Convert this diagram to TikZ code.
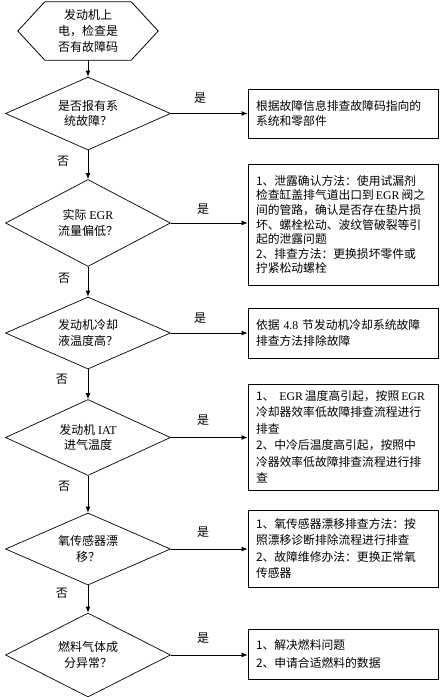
\documentclass[tikz,border=0pt]{standalone}
\usepackage{fontspec}
\setmainfont{Noto Sans CJK SC}
\newfontfamily\lat{Liberation Serif}
\usetikzlibrary{shapes.geometric,arrows.meta}
\begin{document}
\begin{tikzpicture}[x=1pt,y=-1pt,
  dec/.style={draw, diamond, aspect=2.2, minimum width=165pt, inner sep=0pt, align=center,
    font=\fontsize{12}{15.5}\selectfont, line width=0.7pt},
  res/.style={draw, rectangle, text width=174pt, inner xsep=8pt, inner ysep=0pt, align=left,
    font=\fontsize{11.8}{16.5}\selectfont, line width=0.8pt},
  arr/.style={-{Latex[length=6pt,width=5pt]}, line width=0.9pt},
  lbl/.style={font=\fontsize{12}{14}\selectfont, inner sep=0pt}]
\useasboundingbox (0,0) rectangle (440,697);

% start hexagon
\node[minimum width=140pt, minimum height=58pt, inner sep=0pt, align=center,
  font=\fontsize{12}{16}\selectfont] (start) at (88,31) {发动机上\\电，检查是\\否有故障码};
\draw[line width=0.8pt] (start.west) -- ([xshift=27pt]start.north west) -- ([xshift=-27pt]start.north east)
  -- (start.east) -- ([xshift=-27pt]start.south east) -- ([xshift=27pt]start.south west) -- cycle;

% decisions
\node[dec, minimum height=73pt] (d1) at (88,113.5) {是否报有系\\统故障？};
\node[dec, minimum height=87pt] (d2) at (88,223) {实际 {\lat EGR}\\流量偏低？};
\node[dec, minimum height=72pt] (d3) at (88,333) {发动机冷却\\液温度高？};
\node[dec, minimum height=76pt] (d4) at (88,437.5) {发动机 {\lat IAT}\\进气温度};
\node[dec, minimum height=72pt] (d5) at (88,549) {氧传感器漂\\移？};
\node[dec, minimum height=84pt] (d6) at (88,655) {燃料气体成\\分异常？};

% results
\node[res, minimum height=49pt, font=\fontsize{11.8}{15}\selectfont] (b1) at (343,113.5)
  {根据故障信息排查故障码指向的\\系统和零部件};
\node[res, minimum height=121pt, font=\fontsize{11.8}{14.6}\selectfont] (b2) at (343,224.5)
  {1、泄露确认方法：使用试漏剂\\检查缸盖排气道出口到\,{\lat EGR}\,阀之\\间的管路，确认是否存在垫片损\\坏、螺栓松动、波纹管破裂等引\\起的泄露问题\\2、排查方法：更换损坏零件或\\拧紧松动螺栓};
\node[res, minimum height=50pt] (b3) at (343,333)
  {依据 {\lat 4.8} 节发动机冷却系统故障\\排查方法排除故障};
\node[res, minimum height=106pt] (b4) at (343,437)
  {1、\hspace{5pt}{\lat EGR}\,温度高引起，按照\,{\lat EGR}\\冷却器效率低故障排查流程进行\\排查\\2、中冷后温度高引起，按照中\\冷器效率低故障排查流程进行排\\查};
\node[res, minimum height=77pt] (b5) at (343,548.5)
  {1、氧传感器漂移排查方法：按\\照漂移诊断排除流程进行排查\\2、故障维修办法：更换正常氧\\传感器};
\node[res, minimum height=50pt, font=\fontsize{11.8}{18}\selectfont] (b6) at (343,654)
  {1、解决燃料问题\\2、申请合适燃料的数据};

% vertical connectors
\draw[arr] (start.south) -- (d1.north);
\draw[arr] (d1.south) -- (d2.north);
\draw[arr] (d2.south) -- (d3.north);
\draw[arr] (d3.south) -- (d4.north);
\draw[arr] (d4.south) -- (d5.north);
\draw[arr] (d5.south) -- (d6.north);

% no labels
\node[lbl] (n1) at ([shift={(-25,11)}]d1.south) {否};
\node[lbl] (n2) at ([shift={(-24,11)}]d2.south) {否};
\node[lbl] (n3) at ([shift={(-26,10)}]d3.south) {否};
\node[lbl] (n4) at ([shift={(-24,10)}]d4.south) {否};
\node[lbl] (n5) at ([shift={(-26,8)}]d5.south) {否};

% yes connectors
\draw[arr] (d1.east) -- node[lbl, pos=0.38, yshift=15pt] {是} (d1.east -| b1.west);
\draw[arr] (d2.east) -- node[lbl, pos=0.42, yshift=14pt] {是} (d2.east -| b2.west);
\draw[arr] (d3.east) -- node[lbl, pos=0.38, yshift=15pt] {是} (d3.east -| b3.west);
\draw[arr] (d4.east) -- node[lbl, pos=0.42, yshift=17pt] {是} (d4.east -| b4.west);
\draw[arr] (d5.east) -- node[lbl, pos=0.42, yshift=17pt] {是} (d5.east -| b5.west);
\draw[arr] (d6.east) -- node[lbl, pos=0.42, yshift=17pt] {是} (d6.east -| b6.west);
\end{tikzpicture}
\end{document}
